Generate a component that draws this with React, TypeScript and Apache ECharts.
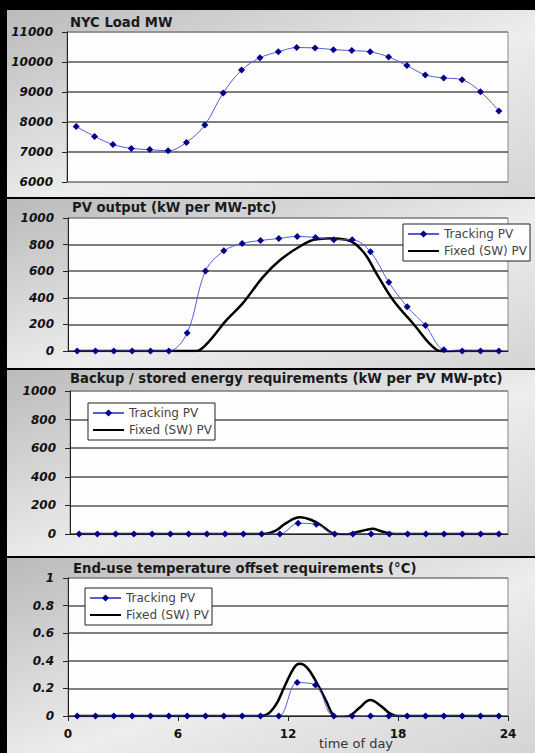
import React, { useEffect, useRef } from "react";
import * as echarts from "echarts";

// ---- data ----
const hours = [0.5, 1.5, 2.5, 3.5, 4.5, 5.5, 6.5, 7.5, 8.5, 9.5, 10.5, 11.5, 12.5, 13.5, 14.5, 15.5, 16.5, 17.5, 18.5, 19.5, 20.5, 21.5, 22.5, 23.5];

const nycLoad = [7850, 7520, 7250, 7120, 7080, 7040, 7320, 7900, 8970, 9730, 10140, 10340, 10480, 10470, 10410, 10380, 10340, 10170, 9880, 9570, 9470, 9410, 9010, 8370];

const pvTracking = [0, 0, 0, 0, 0, 0, 136, 602, 753, 808, 831, 846, 861, 854, 836, 836, 746, 516, 332, 191, 10, 0, 0, 0];
const pvFixedHours = [0.5, 6.5, 7.0, 7.54, 8.63, 9.54, 10.63, 11.54, 12.64, 13.55, 14.27, 15.18, 16.09, 16.82, 17.73, 18.82, 20.1, 20.64, 21.19, 23.5];
const pvFixed = [0, 0, 0, 50, 230, 360, 555, 680, 786, 841, 846, 836, 748, 584, 383, 207, 10, -5, 0, 0];

const backupTracking = [0, 0, 0, 0, 0, 0, 0, 0, 0, 0, 0, 0, 75, 68, 0, 0, 0, 0, 0, 0, 0, 0, 0, 0];
const backupFixedHours = [0.5, 10.56, 11.27, 11.8, 12.6, 13.22, 13.75, 14.28, 14.6, 15.16, 15.69, 16.23, 16.6, 16.93, 17.46, 17.82, 23.5];
const backupFixed = [0, 0, 24, 73, 117, 98, 61, 12, 0, -3, 12, 29, 37, 24, 5, 0, 0];

const tempTracking = [0, 0, 0, 0, 0, 0, 0, 0, 0, 0, 0, 0, 0.242, 0.225, 0, 0, 0, 0, 0, 0, 0, 0, 0, 0];
const tempFixedHours = [0.5, 10.56, 11.27, 11.8, 12.33, 12.65, 13.04, 13.57, 14.1, 14.46, 14.81, 15.34, 15.87, 16.49, 17.11, 17.55, 18.0, 23.5];
const tempFixed = [0, 0, 0.068, 0.21, 0.35, 0.378, 0.35, 0.24, 0.104, 0.007, -0.01, 0, 0.056, 0.116, 0.068, 0.02, 0, 0];

const titles = [
  "NYC Load MW",
  "PV output (kW per MW-ptc)",
  "Backup / stored energy requirements (kW per PV MW-ptc)",
  "End-use temperature offset requirements (\u00B0C)",
];
const xTickLabels = ["0", "6", "12", "18", "24"];
const seriesNames = ["Tracking PV", "Fixed (SW) PV"];
const xAxisTitle = "time of day";

const FONT = "'DejaVu Sans', Verdana, sans-serif";

export default function App() {
  const ref = useRef<HTMLDivElement>(null);
  useEffect(() => {
    document.body.style.margin = "0";
    const chart = echarts.init(ref.current!, undefined, { renderer: "svg" });

    const grids = [
      { left: 67, top: 32, width: 441, height: 150 },
      { left: 68, top: 218, width: 440, height: 133 },
      { left: 70, top: 391, width: 438, height: 143 },
      { left: 68, top: 578, width: 440, height: 138 },
    ];
    const yRanges = [
      { min: 6000, max: 11000, interval: 1000 },
      { min: 0, max: 1000, interval: 200 },
      { min: 0, max: 1000, interval: 200 },
      { min: 0, max: 1, interval: 0.2 },
    ];
    const panels = [
      { y: 10, h: 187 },
      { y: 199, h: 169 },
      { y: 370, h: 186 },
      { y: 558, h: 195 },
    ];
    const titlePos = [
      [70, 22],
      [72, 207],
      [70, 378],
      [73, 568],
    ];

    const zip = (xs: number[], ys: number[]) => xs.map((x, i) => [x, ys[i]]);

    const trackStyle = (gi: number, data: number[]) => ({
      type: "line",
      name: seriesNames[0],
      xAxisIndex: gi,
      yAxisIndex: gi,
      data: zip(hours, data),
      smooth: 0.35,
      symbol: "diamond",
      symbolSize: 7,
      lineStyle: { color: "#5a5ad8", width: 1 },
      itemStyle: { color: "#00008c" },
      z: 3,
    });
    const fixedStyle = (gi: number, xs: number[], ys: number[]) => ({
      type: "line",
      name: seriesNames[1],
      xAxisIndex: gi,
      yAxisIndex: gi,
      data: zip(xs, ys),
      smooth: 0.4,
      symbol: "none",
      lineStyle: { color: "#000", width: 2.5 },
      itemStyle: { color: "#000" },
      z: 2,
    });

    const panelBg = panels.map((p) => ({
      type: "rect",
      z: -10,
      shape: { x: 7, y: p.y, width: 528, height: p.h },
      style: {
        fill: {
          type: "linear",
          x: 0,
          y: 0,
          x2: 1,
          y2: 1,
          colorStops: [
            { offset: 0, color: "#bababa" },
            { offset: 0.55, color: "#ededed" },
            { offset: 1, color: "#d4d4d4" },
          ],
        },
      },
    }));

    const titleTexts = titles.map((t, i) => ({
      type: "text",
      x: titlePos[i][0],
      y: titlePos[i][1],
      z: 10,
      style: {
        text: t,
        fontFamily: FONT,
        fontWeight: "bold",
        fontSize: 13.2,
        fill: "#1a1a1a",
        textVerticalAlign: "middle",
      },
    }));

    const legendBase = {
      orient: "vertical",
      data: [seriesNames[0], { name: seriesNames[1], itemStyle: { opacity: 0 } }],
      backgroundColor: "#ffffff",
      borderColor: "#222",
      borderWidth: 1,
      padding: [4, 3, 4, 4],
      itemWidth: 31,
      itemHeight: 9,
      itemGap: 5,
      selectedMode: false,
      textStyle: { fontFamily: FONT, fontSize: 12, color: "#444" },
    };

    const option: any = {
      animation: false,
      backgroundColor: "#000",
      graphic: [
        ...panelBg,
        ...titleTexts,
        {
          type: "text",
          x: 356,
          y: 743,
          z: 10,
          style: {
            text: xAxisTitle,
            fontFamily: FONT,
            fontSize: 13,
            fill: "#333",
            textAlign: "center",
            textVerticalAlign: "middle",
          },
        },
      ],
      grid: grids.map((g) => ({
        ...g,
        show: true,
        backgroundColor: "#fdfdfd",
        borderColor: "#8a8a8a",
        borderWidth: 1,
      })),
      legend: [
        { ...legendBase, left: 403, top: 224 },
        { ...legendBase, left: 88, top: 403 },
        { ...legendBase, left: 85, top: 588 },
      ],
      xAxis: grids.map((_, i) => ({
        type: "value",
        gridIndex: i,
        min: 0,
        max: 24,
        interval: 6,
        axisLine: { show: true, lineStyle: { color: i === 0 ? "#8a8a8a" : "#222", width: 1 } },
        axisTick: { show: i === 3, length: 5, lineStyle: { color: "#222" } },
        axisLabel: {
          show: i === 3,
          fontFamily: FONT,
          fontWeight: "bold",
          fontSize: 12,
          color: "#111",
          margin: 12,
          formatter: (v: number) => xTickLabels[Math.round(v / 6)] ?? "",
        },
        splitLine: { show: false },
      })),
      yAxis: grids.map((_, i) => ({
        type: "value",
        gridIndex: i,
        ...yRanges[i],
        axisLine: { show: true, lineStyle: { color: "#222", width: 1 } },
        axisTick: { show: true, length: 5, lineStyle: { color: "#222" } },
        axisLabel: {
          fontFamily: FONT,
          fontWeight: "bold",
          fontStyle: "italic",
          fontSize: 12,
          color: "#111",
          margin: 14,
          formatter: (v: number) => String(Math.round(v * 10) / 10),
        },
        splitLine: {
          show: true,
          lineStyle: {
            color: i === 0
              ? ["#8a8a8a", "#555", "#555", "#555", "#555", "#8a8a8a"]
              : ["#555", "#555", "#555", "#555", "#555", "#8a8a8a"],
            width: 1.5,
          },
        },
      })),
      series: [
        trackStyle(0, nycLoad),
        trackStyle(1, pvTracking),
        fixedStyle(1, pvFixedHours, pvFixed),
        trackStyle(2, backupTracking),
        fixedStyle(2, backupFixedHours, backupFixed),
        trackStyle(3, tempTracking),
        fixedStyle(3, tempFixedHours, tempFixed),
      ],
    };
    chart.setOption(option);
    return () => chart.dispose();
  }, []);
  return <div ref={ref} style={{ width: 535, height: 753, background: "#000" }} />;
}
